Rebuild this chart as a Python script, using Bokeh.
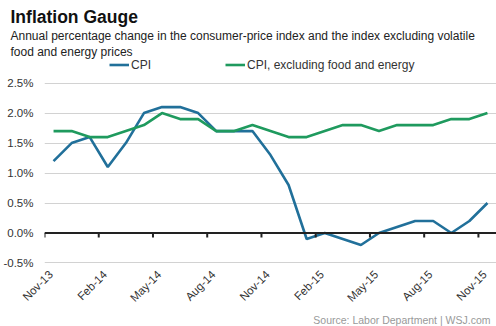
import math
from bokeh.plotting import figure
from bokeh.models import Range1d, FixedTicker, LinearAxis, Legend, LegendItem, Span, Title
from bokeh.embed import file_html
from bokeh.resources import INLINE

months = ["Nov-13", "Dec-13", "Jan-14", "Feb-14", "Mar-14", "Apr-14", "May-14",
          "Jun-14", "Jul-14", "Aug-14", "Sep-14", "Oct-14", "Nov-14", "Dec-14",
          "Jan-15", "Feb-15", "Mar-15", "Apr-15", "May-15", "Jun-15", "Jul-15",
          "Aug-15", "Sep-15", "Oct-15", "Nov-15"]
cpi = [1.2, 1.5, 1.6, 1.1, 1.5, 2.0, 2.1, 2.1, 2.0, 1.7, 1.7, 1.7, 1.3, 0.8,
       -0.1, 0.0, -0.1, -0.2, 0.0, 0.1, 0.2, 0.2, 0.0, 0.2, 0.5]
core = [1.7, 1.7, 1.6, 1.6, 1.7, 1.8, 2.0, 1.9, 1.9, 1.7, 1.7, 1.8, 1.7, 1.6,
        1.6, 1.7, 1.8, 1.8, 1.7, 1.8, 1.8, 1.8, 1.9, 1.9, 2.0]
x_tick_labels = ["Nov-13", "Feb-14", "May-14", "Aug-14", "Nov-14", "Feb-15",
                 "May-15", "Aug-15", "Nov-15"]
y_ticks = [-0.5, 0.0, 0.5, 1.0, 1.5, 2.0, 2.5]
y_tick_labels = ["-0.5%", "0.0%", "0.5%", "1.0%", "1.5%", "2.0%", "2.5%"]

FONT = "Liberation Sans"
BLUE = "#21709a"
GREEN = "#1f9a5e"
AXIS = "#222222"

xs = [i + 0.5 for i in range(len(months))]
tick_idx = [months.index(m) for m in x_tick_labels]

p = figure(width=496, height=326, output_backend="svg", toolbar_location=None,
           x_range=Range1d(0, len(months)), y_range=Range1d(-0.526, 2.911),
           min_border_left=43, min_border_right=0, min_border_top=58,
           min_border_bottom=59, x_axis_location=None)
p.outline_line_color = None
p.background_fill_color = "white"

# y axis
yax = p.yaxis[0]
yax.ticker = FixedTicker(ticks=y_ticks)
yax.major_label_overrides = {t: l for t, l in zip(y_ticks, y_tick_labels)}
yax.axis_line_color = None
yax.major_tick_line_color = None
yax.major_tick_out = 0
yax.major_tick_in = 0
yax.minor_tick_line_color = None
yax.minor_tick_out = 0
yax.major_label_standoff = 11
yax.major_label_text_font = FONT
yax.major_label_text_font_size = "11.5px"
yax.major_label_text_color = "#333333"

p.ygrid.ticker = FixedTicker(ticks=y_ticks)
p.ygrid.grid_line_color = "#d2d2d2"
p.ygrid.grid_line_width = 1
p.xgrid.grid_line_color = None

# label axis at bottom (labels sit slightly right of the tick marks, as in the original)
lab_pos = [i + 0.35 for i in tick_idx]
lax = LinearAxis(ticker=FixedTicker(ticks=lab_pos),
                 major_label_overrides={t: l for t, l in zip(lab_pos, x_tick_labels)})
lax.axis_line_color = None
lax.major_tick_line_color = None
lax.major_tick_out = 0
lax.major_tick_in = 0
lax.minor_tick_line_color = None
lax.minor_tick_out = 0
lax.major_label_orientation = math.pi / 4
lax.major_label_standoff = 8
lax.major_label_text_font = FONT
lax.major_label_text_font_size = "11.5px"
lax.major_label_text_color = "#333333"
p.add_layout(lax, "below")

r1 = p.line(xs, cpi, line_color=BLUE, line_width=2.6)
r2 = p.line(xs, core, line_color=GREEN, line_width=2.6)

# zero line with tick marks
p.add_layout(Span(location=0, dimension="width", line_color=AXIS, line_width=2))
p.segment(x0=tick_idx, y0=[0] * len(tick_idx), x1=tick_idx, y1=[-0.075] * len(tick_idx),
          line_color=AXIS, line_width=2)

legend = Legend(items=[LegendItem(label="CPI", renderers=[r1]),
                       LegendItem(label="CPI, excluding food and energy", renderers=[r2])],
                orientation="horizontal", location=(65, 192),
                glyph_width=20, glyph_height=15, label_height=15,
                label_standoff=2, spacing=74, padding=0, margin=0,
                border_line_color=None, background_fill_alpha=0,
                label_text_font=FONT, label_text_font_size="12px",
                label_text_color="#333333")
p.add_layout(legend)

p.add_layout(Title(text="food and energy prices", text_font=FONT,
                   text_font_size="12px", text_font_style="normal",
                   text_color="#222222", offset=-34, standoff=0), "above")
p.add_layout(Title(text="Annual percentage change in the consumer-price index and the index excluding volatile",
                   text_font=FONT, text_font_size="12px", text_font_style="normal",
                   text_color="#222222", offset=-34, standoff=0), "above")
p.add_layout(Title(text="Inflation Gauge", text_font=FONT, text_font_size="17.5px",
                   text_font_style="bold", text_color="#111111",
                   offset=-34, standoff=0), "above")
p.add_layout(Title(text="Source: Labor Department | WSJ.com", text_font=FONT,
                   text_font_size="10.5px", text_font_style="normal",
                   text_color="#999999", align="right", offset=6, standoff=1), "below")

open("out.html", "w").write(file_html(p, INLINE))
